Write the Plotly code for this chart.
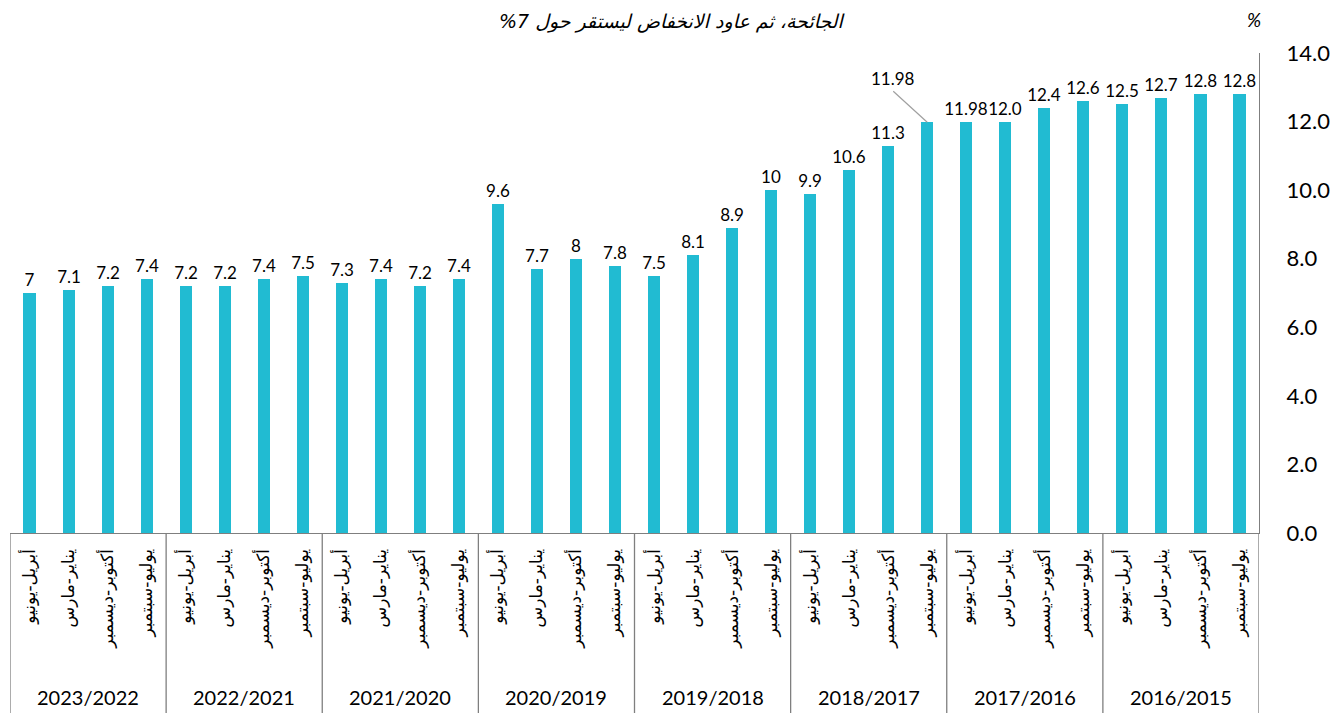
import plotly.graph_objects as go

years = ["2023/2022", "2022/2021", "2021/2020", "2020/2019",
         "2019/2018", "2018/2017", "2017/2016", "2016/2015"]
quarters = ["أبريل-يونيو", "يناير-مارس", "أكتوبر-ديسمبر", "يوليو-سبتمبر"]
values = [7, 7.1, 7.2, 7.4, 7.2, 7.2, 7.4, 7.5, 7.3, 7.4, 7.2, 7.4,
          9.6, 7.7, 8, 7.8, 7.5, 8.1, 8.9, 10, 9.9, 10.6, 11.3, 11.98,
          11.98, 12.0, 12.4, 12.6, 12.5, 12.7, 12.8, 12.8]
labels = ["7", "7.1", "7.2", "7.4", "7.2", "7.2", "7.4", "7.5", "7.3", "7.4", "7.2", "7.4",
          "9.6", "7.7", "8", "7.8", "7.5", "8.1", "8.9", "10", "9.9", "10.6", "11.3", "11.98",
          "11.98", "12.0", "12.4", "12.6", "12.5", "12.7", "12.8", "12.8"]
callout_index = 23
title_text = "الجائحة، ثم عاود الانخفاض ليستقر حول 7%"

n = len(values)
xs = list(range(n))
tick_text = [quarters[i % 4] for i in xs]
bar_text = [("" if i == callout_index else labels[i]) for i in xs]

FONT = "Lato, 'DejaVu Sans', sans-serif"
AR_FONT = "'DejaVu Sans', sans-serif"
LINE = "#7f7f7f"
RLE, PDF = "\u202b", "\u202c"

fig = go.Figure()
fig.add_trace(go.Bar(
    x=xs, y=values, width=0.31,
    marker=dict(color="#21BBD2", line=dict(width=0)),
    text=bar_text, textposition="outside", cliponaxis=False, constraintext="none",
    textfont=dict(family=FONT, size=17, color="#000000"),
    hoverinfo="skip",
))

# callout label with leader line
fig.add_annotation(x=callout_index, y=values[callout_index], xref="x", yref="y",
                   text=labels[callout_index], showarrow=True, arrowhead=0,
                   arrowwidth=1.2, arrowcolor="#a0a0a0", ax=-34, ay=-31,
                   standoff=0, yanchor="bottom",
                   font=dict(family=FONT, size=17, color="#000"))

# group labels and dividers
ng = len(years)
for g in range(ng + 1):
    fig.add_shape(type="line", xref="x", yref="paper",
                  x0=g * 4 - 0.5, x1=g * 4 - 0.5, y0=0, y1=-0.40,
                  line=dict(color=LINE, width=1.3))
for g, yr in enumerate(years):
    fig.add_annotation(x=g * 4 + 1.5, y=-0.342, xref="x", yref="paper",
                       text=yr, showarrow=False, yanchor="middle",
                       font=dict(family=FONT, size=20, color="#000"))

fig.add_annotation(x=(672 - 10) / 1249, y=(533 - 22) / 480, xref="paper", yref="paper",
                   xanchor="center", yanchor="middle",
                   text="<i>" + RLE + title_text + PDF + "</i>", showarrow=False,
                   font=dict(family=AR_FONT, size=19, color="#000"))
fig.add_annotation(x=(1254 - 10) / 1249, y=(533 - 19) / 480, xref="paper", yref="paper",
                   xanchor="center", yanchor="middle", showarrow=False,
                   text="<i>%</i>", font=dict(family=FONT, size=19, color="#000"))

fig.update_layout(
    width=1344, height=713,
    margin=dict(l=10, r=85, t=53, b=180),
    paper_bgcolor="white", plot_bgcolor="white",
    showlegend=False, bargap=0,
    xaxis=dict(range=[-0.5, n - 0.5], tickmode="array", tickvals=xs, ticktext=tick_text,
               tickangle=-90, showgrid=False, zeroline=False, showline=True,
               linecolor=LINE, linewidth=1.3, ticks="outside", ticklen=8,
               tickcolor="rgba(0,0,0,0)",
               tickfont=dict(family=AR_FONT, size=17, color="#000")),
    yaxis=dict(range=[0, 14], dtick=2, tickformat=".1f", side="right",
               showgrid=False, zeroline=False, showline=True, linecolor=LINE,
               linewidth=1.3, ticks="outside", ticklen=22, tickcolor="rgba(0,0,0,0)",
               tickfont=dict(family=FONT, size=22, color="#000")),
)

fig.write_html("out.html", config={"displayModeBar": False},
               post_script="document.body.style.margin='0';")
